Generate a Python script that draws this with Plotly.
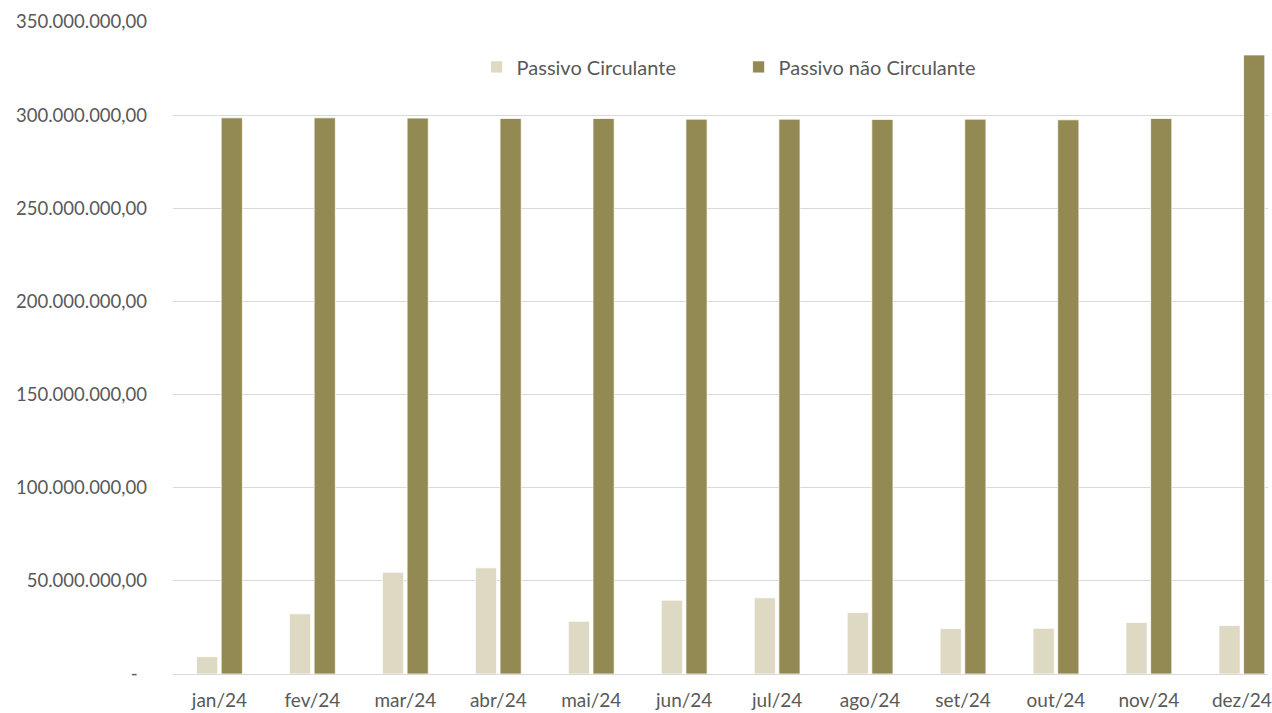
import plotly.graph_objects as go

categories = ["jan/24", "fev/24", "mar/24", "abr/24", "mai/24", "jun/24",
              "jul/24", "ago/24", "set/24", "out/24", "nov/24", "dez/24"]
passivo_circulante = [9.3e6, 32.3e6, 54.6e6, 57.0e6, 28.3e6, 39.6e6,
                      40.9e6, 33.0e6, 24.4e6, 24.5e6, 27.7e6, 26.0e6]
passivo_nao_circulante = [298.55e6, 298.55e6, 298.4e6, 298.2e6, 298.2e6, 297.85e6,
                          297.85e6, 297.7e6, 297.85e6, 297.5e6, 298.2e6, 332.3e6]
tick_vals = [0, 50e6, 100e6, 150e6, 200e6, 250e6, 300e6, 350e6]
tick_text = ["-\u00a0\u00a0", "50.000.000,00", "100.000.000,00", "150.000.000,00",
             "200.000.000,00", "250.000.000,00", "300.000.000,00", "350.000.000,00"]

FONT = "Lato"
TXT = "#595959"

fig = go.Figure()
fig.add_trace(go.Bar(name="Passivo Circulante", x=categories, y=passivo_circulante,
                     marker=dict(color="#DDD9C3", line=dict(color="#FFFFFF", width=0.75))))
fig.add_trace(go.Bar(name="Passivo não Circulante", x=categories, y=passivo_nao_circulante,
                     marker=dict(color="#938953", line=dict(color="#FFFFFF", width=0.75))))

W, H = 1272, 713
left, top, bottom = 173.4, 22.1, 713 - 674.3
cat_w = 93.25
xmax = -0.5 + (W - left) / cat_w

fig.update_layout(
    width=W, height=H,
    margin=dict(l=left, r=0, t=top, b=bottom, pad=0),
    paper_bgcolor="white", plot_bgcolor="white",
    barmode="group", bargap=0.47, bargroupgap=0.14,
    font=dict(family=FONT, size=19, color=TXT),
    showlegend=True,
    legend=dict(orientation="h", x=(478 - left) / (W - left), y=(674.3 - 67) / (674.3 - 22.1),
                xanchor="left", yanchor="middle", bgcolor="rgba(0,0,0,0)",
                font=dict(family=FONT, size=20, color=TXT), entrywidth=217,
                entrywidthmode="pixels", itemwidth=30, traceorder="normal"),
    xaxis=dict(type="category", range=[-0.5, xmax], showgrid=False, showline=False,
               zeroline=False, ticks="", ticklabelstandoff=13,
               tickfont=dict(family=FONT, size=19, color=TXT)),
    yaxis=dict(range=[0, 350e6], tickvals=tick_vals, ticktext=tick_text,
               showgrid=True, gridcolor="#D9D9D9", gridwidth=1, zeroline=True,
               zerolinecolor="#D9D9D9", zerolinewidth=1, showline=False, ticks="",
               ticklabelstandoff=25, tickfont=dict(family=FONT, size=18.5, color=TXT)),
)

fig.write_html("out.html", config={"displayModeBar": False},
               post_script="document.body.style.margin='0';document.body.style.overflow='hidden';")
